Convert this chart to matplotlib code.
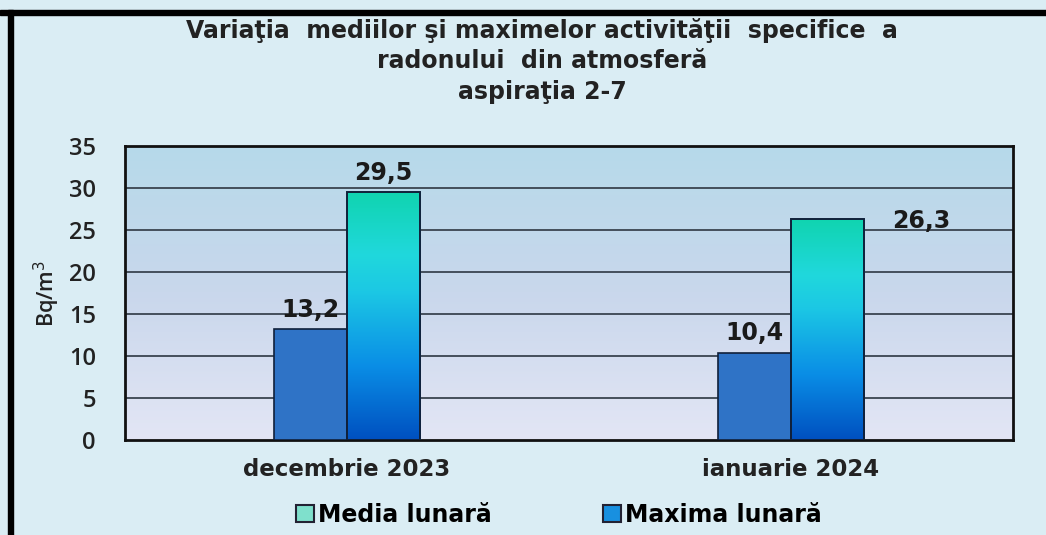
import numpy as np
import matplotlib
matplotlib.use("Agg")
import matplotlib.pyplot as plt
from matplotlib.colors import LinearSegmentedColormap
from matplotlib.patches import Rectangle

categories = ["decembrie 2023", "ianuarie 2024"]
media = [13.2, 10.4]
maxima = [29.5, 26.3]
media_labels = ["13,2", "10,4"]
maxima_labels = ["29,5", "26,3"]
yticks = [0, 5, 10, 15, 20, 25, 30, 35]
title = "Variaţia  mediilor şi maximelor activităţii  specifice  a\nradonului  din atmosferă\naspiraţia 2-7"

fig = plt.figure(figsize=(10.46, 5.35), dpi=100)
fig.patch.set_facecolor("#daedf4")
ax = fig.add_axes([125/1046, 1-440/535, 888/1046, 294/535])

# border lines (top and left black bars)
fig.add_artist(Rectangle((0, 1-15/535), 1, 5/535, transform=fig.transFigure, color="black", zorder=10))
fig.add_artist(Rectangle((8/1046, 0), 5/1046, 1-10/535, transform=fig.transFigure, color="black", zorder=10))

x = np.arange(len(categories))
w = 0.165

# background gradient of plot area
bg = LinearSegmentedColormap.from_list("bg", ["#e3e6f5", "#c9d7ec", "#b6daea"])
grad = np.linspace(0, 1, 256).reshape(-1, 1)
ax.imshow(grad, aspect="auto", cmap=bg, origin="lower", extent=[-0.5, 1.5, 0, 35], zorder=0)

for t in yticks[1:-1]:
    ax.axhline(t, color="#3a4450", lw=1.3, zorder=1)

b1 = ax.bar(x - w/2, media, w, color="#2f73c6", edgecolor="#10203a", lw=1.2, zorder=3)
b2 = ax.bar(x + w/2, maxima, w, color="none", edgecolor="#10203a", lw=1.4, zorder=4)

barcmap = LinearSegmentedColormap.from_list("bar", [(0, "#0050c0"), (0.3, "#0a8ee6"), (0.6, "#1cc8e4"), (0.75, "#20d8dc"), (1, "#10d4b0")])
for rect, v in zip(b2, maxima):
    x0 = rect.get_x()
    im = ax.imshow(np.linspace(0, 1, 256).reshape(-1, 1), aspect="auto", cmap=barcmap, origin="lower",
                   extent=[x0, x0 + rect.get_width(), 0, v], zorder=3)
    im.set_clip_path(rect)

ax.set_xlim(-0.5, 1.5)
ax.set_ylim(0, 35)

lblfont = dict(family="DejaVu Sans", fontsize=17, fontweight="bold", color="#1a1a1a")
ax.text(x[0] + w/2, maxima[0] + 0.9, maxima_labels[0], ha="center", va="bottom", **lblfont)
ax.text(x[1] + w/2 + 0.21, maxima[1] - 1.6, maxima_labels[1], ha="center", va="bottom", **lblfont)
ax.text(x[0] - w/2, media[0] + 0.9, media_labels[0], ha="center", va="bottom", **lblfont)
ax.text(x[1] - w/2, media[1] + 0.9, media_labels[1], ha="center", va="bottom", **lblfont)

for s in ax.spines.values():
    s.set_color("#111111")
    s.set_linewidth(2)
ax.set_yticks(yticks)
ax.set_yticklabels([str(t) for t in yticks], fontsize=17, family="Open Sans", fontweight="semibold", color="#222222")
ax.set_xticks(x)
ax.set_xticklabels(categories, fontsize=16.5, family="DejaVu Sans", fontweight="bold", color="#222222")
ax.tick_params(length=0)
ax.tick_params(axis="y", pad=21)
ax.tick_params(axis="x", pad=13)
ax.set_ylabel("Bq/m$^3$", fontsize=15.5, family="Open Sans", fontweight="semibold", color="#222222", labelpad=5)

fig.text(542/1046, 1-61/535, title, ha="center", va="center", fontsize=17,
         fontweight="bold", family="DejaVu Sans", color="#222222", linespacing=1.33)

handles = [Rectangle((0, 0), 1, 1, facecolor="#7fe0cc", edgecolor="#223", lw=1.5),
           Rectangle((0, 0), 1, 1, facecolor="#1890e0", edgecolor="#223", lw=1.5)]
fig.legend(handles, ["Media lunară", "Maxima lunară"], loc="center", bbox_to_anchor=(559/1046, 1-515/535),
           ncol=2, frameon=False, prop=dict(family="DejaVu Sans", size=17, weight="bold"), handlelength=0.75,
           handleheight=0.75, handletextpad=0.2, columnspacing=4.7)

fig.savefig("out.png", dpi=100, facecolor=fig.get_facecolor())
